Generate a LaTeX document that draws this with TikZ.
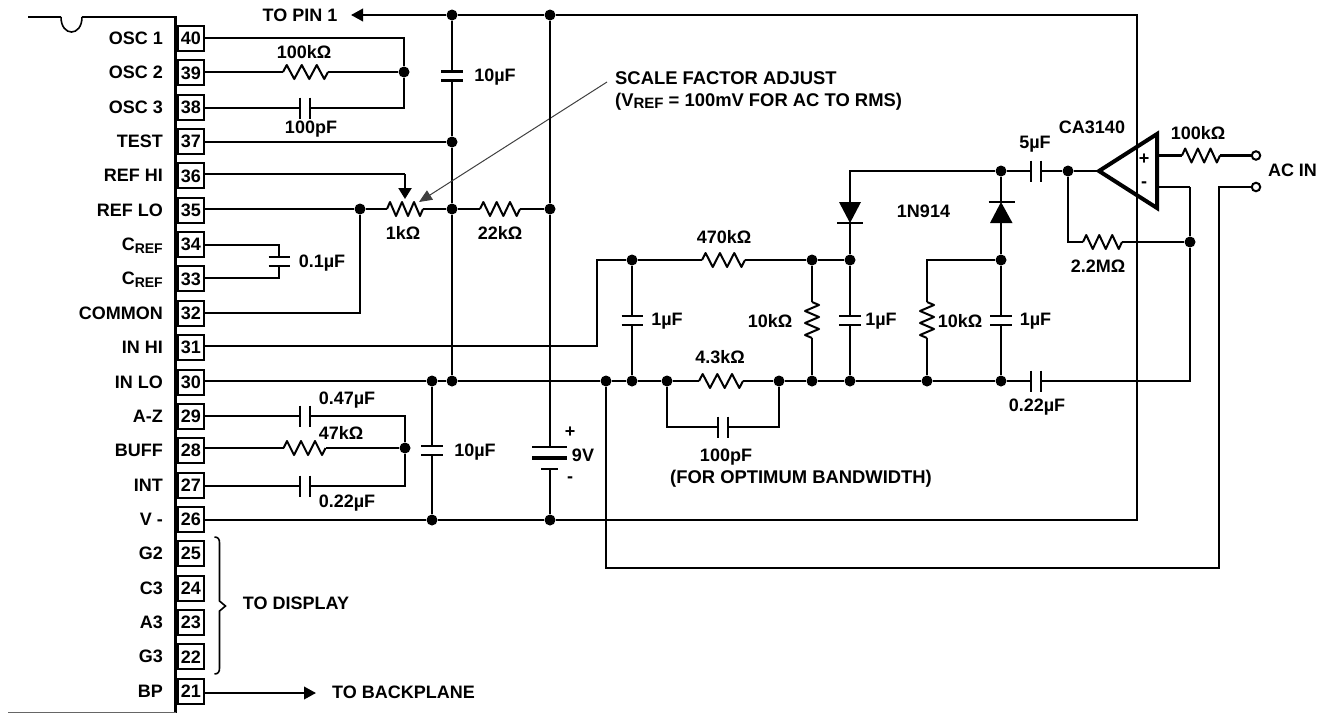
\documentclass[tikz,border=0pt]{standalone}
\usepackage{fontspec}
\setmainfont{Liberation Sans}
\usetikzlibrary{arrows.meta,calc}
\tikzset{
  wire/.style={line width=2.2pt,line join=miter,black},
  zig/.style={line width=2pt,line join=round,black},
  plate/.style={line width=2.2pt,black},
  dot/.style={circle,fill=black,inner sep=0pt,minimum size=11pt},
  pinbox/.style={draw,line width=2pt,minimum width=26pt,minimum height=25pt,inner sep=0pt,font=\fontsize{18}{20}\bfseries\selectfont},
  lab/.style={inner sep=0pt,font=\fontsize{18}{20}\bfseries\selectfont},
  lablong/.style={inner sep=0pt,font=\fontsize{18.4}{20}\bfseries\selectfont},
  term/.style={circle,draw,fill=white,line width=2pt,inner sep=0pt,minimum size=8.5pt},
  bigarrow/.style={-{Triangle[length=12pt,width=12.5pt]}},
}
\newcommand{\ResH}[4]{%
  \coordinate (#1-a) at (#2,#4); \coordinate (#1-b) at (#3,#4);
  \pgfmathsetmacro\uu{(#3-#2)/12}
  \draw[zig] (#1-a) -- ++(\uu,-7) -- ++(2*\uu,14) -- ++(2*\uu,-14) -- ++(2*\uu,14) -- ++(2*\uu,-14) -- ++(2*\uu,14) -- (#1-b);
}
\newcommand{\ResV}[4]{%
  \coordinate (#1-a) at (#2,#3); \coordinate (#1-b) at (#2,#4);
  \pgfmathsetmacro\uu{(#4-#3)/12}
  \draw[zig] (#1-a) -- ++(7,\uu) -- ++(-14,2*\uu) -- ++(14,2*\uu) -- ++(-14,2*\uu) -- ++(14,2*\uu) -- ++(-14,2*\uu) -- (#1-b);
}
\newcommand{\CapH}[4]{%
  \coordinate (#1-a) at ($(#2,#3)+(-5,0)$); \coordinate (#1-b) at ($(#2,#3)+(5,0)$);
  \draw[plate] ($(#1-a)+(0,-#4)$) -- ($(#1-a)+(0,#4)$);
  \draw[plate] ($(#1-b)+(0,-#4)$) -- ($(#1-b)+(0,#4)$);
}
\newcommand{\CapV}[4]{%
  \coordinate (#1-a) at ($(#2,#3)+(0,-4.5)$); \coordinate (#1-b) at ($(#2,#3)+(0,4.5)$);
  \draw[plate] ($(#1-a)+(-#4,0)$) -- ($(#1-a)+(#4,0)$);
  \draw[plate] ($(#1-b)+(-#4,0)$) -- ($(#1-b)+(#4,0)$);
}
\newcommand{\Cref}{C{\fontsize{14}{14}\selectfont\raisebox{-2.5pt}{REF}}}
\begin{document}
\begin{tikzpicture}[x=1pt,y=-1pt]
\useasboundingbox (0,0) rectangle (1323,713);
% IC outline
\coordinate (icA) at (28,17); \coordinate (icB) at (61,17); \coordinate (icC) at (82,17);
\coordinate (icD) at (175.5,17); \coordinate (icE) at (175.5,713); \coordinate (icF) at (8,712);
\draw[wire] (icA) -- (icB);
\draw[line width=1.6pt] (icB) .. controls (61,37) and (82,37) .. (icC);
\draw[wire] (icC) -- (icD) -- (icE);
\draw[line width=1pt,black!60] (icF) -- (icE |- icF);
% pins
\foreach \n/\t in {40/OSC 1,39/OSC 2,38/OSC 3,37/TEST,36/REF HI,35/REF LO,34/\Cref,33/\Cref,32/COMMON,31/IN HI,30/IN LO,29/A-Z,28/BUFF,27/INT,26/V -,25/G2,24/C3,23/A3,22/G3,21/BP}{
  \pgfmathsetmacro\yy{38.5+34.35*(40-\n)}
  \node[pinbox] (p\n) at (191,\yy) {\n};
  \node[lab,anchor=base east] (l\n) at (163,\yy+6) {\t};
}
% junctions
\foreach \nm/\xx/\yy in {jOsc/404/72,jTa/452/15,jTb/550/15,jTest/452/142,jRef/360/209,jPot/452/209,jR22/550/209,
  jA/432/381,jB/452/381,jC/606/381,jD/632/381,jE/667/381,jF/779/381,jG/812/381,jH/850/381,jI/927/381,jJ/1001/381,
  jK/632/260,jL/812/260,jM/850/260,jN/1001/260,jO/1001/171,jP/1068/171,jQ/1190/242,jInt/405/448,jS/432/520,jT/550/520}{
  \node[dot] (\nm) at (\xx,\yy) {};
}
% oscillator network
\ResH{r100}{283}{328}{72}
\CapH{c100p}{305}{108}{10.5}
\coordinate (c40) at (404,38); \coordinate (c38) at (404,108);
\draw[wire] (p40.east |- c40) -- (c40) -- (jOsc) -- (c38) -- (c100p-b);
\draw[wire] (c100p-a) -- (p38.east |- c100p-a);
\draw[wire] (p39.east |- r100-a) -- (r100-a);
\draw[wire] (r100-b) -- (jOsc);
\node[lab] (t100k) at (304,52) {100kΩ};
\node[lab] (t100p) at (311,129) {100pF};
% top rail and to pin 1
\node[lab] (tPin) at (300,15) {TO PIN 1};
\coordinate (pinTip) at (351,15);
\coordinate (cTR) at (1137,15); \coordinate (cBR) at (1137,520);
\draw[wire,bigarrow] (jTa) -- (pinTip);
\draw[wire] (jTa) -- (jTb) -- (cTR) -- (cBR) -- (jT) -- (jS) -- (p26.east |- jS);
% 10uF supply cap
\CapV{c10a}{452}{76}{11}
\draw[wire] (jTa) -- (c10a-a);
\draw[wire] (c10a-b) -- (jTest) -- (jPot) -- (jB);
\draw[wire] (p37.east |- jTest) -- (jTest);
\node[lab] (t10a) at (495,77) {10µF};
% reference pot
\ResH{pot}{387}{423}{209}
\ResH{r22}{480}{520}{209}
\coordinate (c36a) at (405,174); \coordinate (potTip) at (405,199);
\draw[wire] (p36.east |- c36a) -- (c36a);
\draw[wire,-{Triangle[length=11pt,width=13pt]}] (c36a) -- (potTip);
\draw[wire] (p35.east |- jRef) -- (jRef) -- (pot-a);
\draw[wire] (pot-b) -- (jPot) -- (r22-a);
\draw[wire] (r22-b) -- (jR22);
\coordinate (c32) at (360,313);
\draw[wire] (jRef) -- (c32) -- (p32.east |- c32);
\node[lab] (t1k) at (403,233) {1kΩ};
\node[lab] (t22k) at (500,233) {22kΩ};
% scale factor label
\node[lablong,anchor=west] (tSf) at (615,78) {SCALE FACTOR ADJUST};
\node[lablong,anchor=west] (tVr) at (615,102) {(V{\fontsize{15}{15}\selectfont\raisebox{-1.5pt}{REF}} = 100mV FOR AC TO RMS)};
\coordinate (ptrS) at (607,82); \coordinate (ptrT) at (419,202);
\draw[line width=1pt,black!75,-{Triangle[length=13pt,width=11pt]}] (ptrS) -- (ptrT);
% cref
\CapV{cr}{279}{261.5}{10.5}
\coordinate (c34) at (279,245); \coordinate (c33) at (279,278);
\draw[wire] (p34.east |- c34) -- (c34) -- (cr-a);
\draw[wire] (p33.east |- c33) -- (c33) -- (cr-b);
\node[lab] (t01) at (322,263) {0.1µF};
% in hi
\coordinate (c31a) at (597,346); \coordinate (c31b) at (597,260);
\draw[wire] (p31.east |- c31a) -- (c31a) -- (c31b) -- (jK);
\ResH{r470}{702}{745}{260}
\draw[wire] (jK) -- (r470-a);
\draw[wire] (r470-b) -- (jL) -- (jM) -- (jN -| jM);
\node[lab] (t470) at (724,237) {470kΩ};
\CapV{cia}{632}{320.5}{10.5}
\draw[wire] (jK) -- (cia-a);
\draw[wire] (cia-b) -- (jD);
\node[lab] (t1a) at (667,321) {1µF};
\ResV{r10a}{812}{302}{338}
\draw[wire] (jL) -- (r10a-a);
\draw[wire] (r10a-b) -- (jG);
\node[lab] (t10ka) at (770,321) {10kΩ};
\CapV{cib}{850}{320.5}{11}
\draw[wire] (jM) -- (cib-a);
\draw[wire] (cib-b) -- (jH);
\node[lab] (t1b) at (881,321) {1µF};
\ResV{r10b}{927}{302}{338}
\coordinate (c10b) at (927,260);
\draw[wire] (jN) -- (c10b) -- (r10b-a);
\draw[wire] (r10b-b) -- (jI);
\node[lab] (t10kb) at (960,321) {10kΩ};
\CapV{cic}{1001}{320.5}{11}
\draw[wire] (jN) -- (cic-a);
\draw[wire] (cic-b) -- (jJ);
\node[lab] (t1c) at (1035.5,321) {1µF};
% in lo rail
\ResH{r43}{699}{743}{381}
\CapH{c022}{1036}{381}{10.5}
\coordinate (cRail) at (1190,381); \coordinate (cMinus) at (1190,187);
\draw[wire] (p30.east |- jA) -- (jA) -- (jB) -- (jC) -- (jD) -- (jE) -- (r43-a);
\draw[wire] (r43-b) -- (jF) -- (jG) -- (jH) -- (jI) -- (jJ) -- (c022-a);
\draw[wire] (c022-b) -- (cRail) -- (jQ) -- (cMinus);
\node[lab] (t43) at (720,357) {4.3kΩ};
\node[lab] (t022r) at (1037,407) {0.22µF};
\CapH{c100b}{723}{427}{10.5}
\coordinate (c43a) at (667,427); \coordinate (c43b) at (779,427);
\draw[wire] (jE) -- (c43a) -- (c100b-a);
\draw[wire] (c100b-b) -- (c43b) -- (jF);
\node[lab] (t100b) at (726,457) {100pF};
\node[lablong,anchor=west] (tOpt) at (670,479) {(FOR OPTIMUM BANDWIDTH)};
% diodes
\coordinate (d1a) at (850,202); \coordinate (d1c) at (850,223);
\coordinate (cTop) at (850,171);
\fill[black] (839,202) -- (861,202) -- (d1c) -- cycle;
\draw[plate] (837,223) -- (863,223);
\draw[wire] (jM) -- (d1c);
\draw[wire] (d1a) -- (cTop) -- (jO);
\coordinate (d2a) at (1001,223); \coordinate (d2c) at (1001,202);
\fill[black] (990,223) -- (1012.5,223) -- (d2c) -- cycle;
\draw[plate] (988.5,202) -- (1014.5,202);
\draw[wire] (jN) -- (d2a);
\draw[wire] (d2c) -- (jO);
\node[lab] (t1n) at (923.5,211) {1N914};
% opamp
\coordinate (oaTip) at (1099,171); \coordinate (oaTop) at (1157,134); \coordinate (oaBot) at (1157,208);
\draw[line width=4pt,line join=miter] (oaTip) -- (oaTop) -- (oaBot) -- cycle;
\node[lab] (tPlus) at (1144,159) {+};
\node[lab] (tMinus) at (1144,185) {-};
\node[lab] (tCA) at (1092,127) {CA3140};
\CapH{c5}{1036}{171}{10.5}
\draw[wire] (jO) -- (c5-a);
\draw[wire] (c5-b) -- (jP) -- (oaTip);
\node[lab] (t5) at (1035,144) {5µF};
\ResH{r22m}{1083}{1122}{242}
\coordinate (c22m) at (1068,242);
\draw[wire] (jP) -- (c22m) -- (r22m-a);
\draw[wire] (r22m-b) -- (jQ);
\node[lab] (t22m) at (1098,266) {2.2MΩ};
\coordinate (oaPlus) at (1157,155.5); \coordinate (oaMinus) at (1157,187);
\draw[wire] (cMinus) -- (oaMinus);
\ResH{rin}{1182}{1220}{155.5}
\node[term] (tA) at (1256,155.5) {};
\node[term] (tB) at (1256,187) {};
\draw[wire] (oaPlus) -- (rin-a);
\draw[wire] (rin-b) -- (tA);
\coordinate (cB1) at (1219,187); \coordinate (cB2) at (1219,568); \coordinate (cB3) at (606,568);
\draw[wire] (tB) -- (cB1) -- (cB2) -- (cB3) -- (jC);
\node[lab] (t100i) at (1198,133) {100kΩ};
\node[lab] (tAC) at (1292.5,170) {AC IN};
% integrator network
\CapH{c047}{305}{416}{10.5}
\ResH{r47}{283.5}{325.5}{448}
\CapH{c022b}{305}{486}{10.5}
\coordinate (c29) at (405,416); \coordinate (c27) at (405,486);
\draw[wire] (p29.east |- c047-a) -- (c047-a);
\draw[wire] (c047-b) -- (c29) -- (jInt) -- (c27) -- (c022b-b);
\draw[wire] (c022b-a) -- (p27.east |- c022b-a);
\draw[wire] (p28.east |- r47-a) -- (r47-a);
\draw[wire] (r47-b) -- (jInt);
\node[lab] (t047) at (347,400) {0.47µF};
\node[lab] (t47) at (341,433) {47kΩ};
\node[lab] (t022i) at (347,503) {0.22µF};
% 10uF at 432
\CapV{c10b}{432}{450.5}{11}
\draw[wire] (jA) -- (c10b-a);
\draw[wire] (c10b-b) -- (jS);
\node[lab] (t10b) at (475,452) {10µF};
% battery
\coordinate (batA) at (550,447); \coordinate (batB) at (550,469);
\draw[wire] (jTb) -- (jR22) -- (batA);
\draw[wire] (batB) -- (jT);
\draw[line width=1.6pt] (532,447) -- (567,447);
\draw[line width=4pt] (532,458) -- (567,458);
\draw[line width=2pt] (541,469) -- (558,469);
\node[lab] (tBp) at (570,432) {+};
\node[lab] (tBv) at (583,455) {9V};
\node[lab] (tBm) at (570,480) {-};
% display brace
\draw[line width=1.6pt] (214.5,537) .. controls (218,537) and (219.5,539) .. (219.5,543) -- (219.5,601) -- (225.5,606) -- (219.5,611) -- (219.5,668) .. controls (219.5,672) and (218,674) .. (214.5,674);
\node[lab] (tDisp) at (296,603) {TO DISPLAY};
% backplane
\coordinate (bpTip) at (316,693);
\draw[wire,bigarrow] (p21.east |- bpTip) -- (bpTip);
\node[lab] (tBack) at (403.5,692) {TO BACKPLANE};
\end{tikzpicture}
\end{document}
